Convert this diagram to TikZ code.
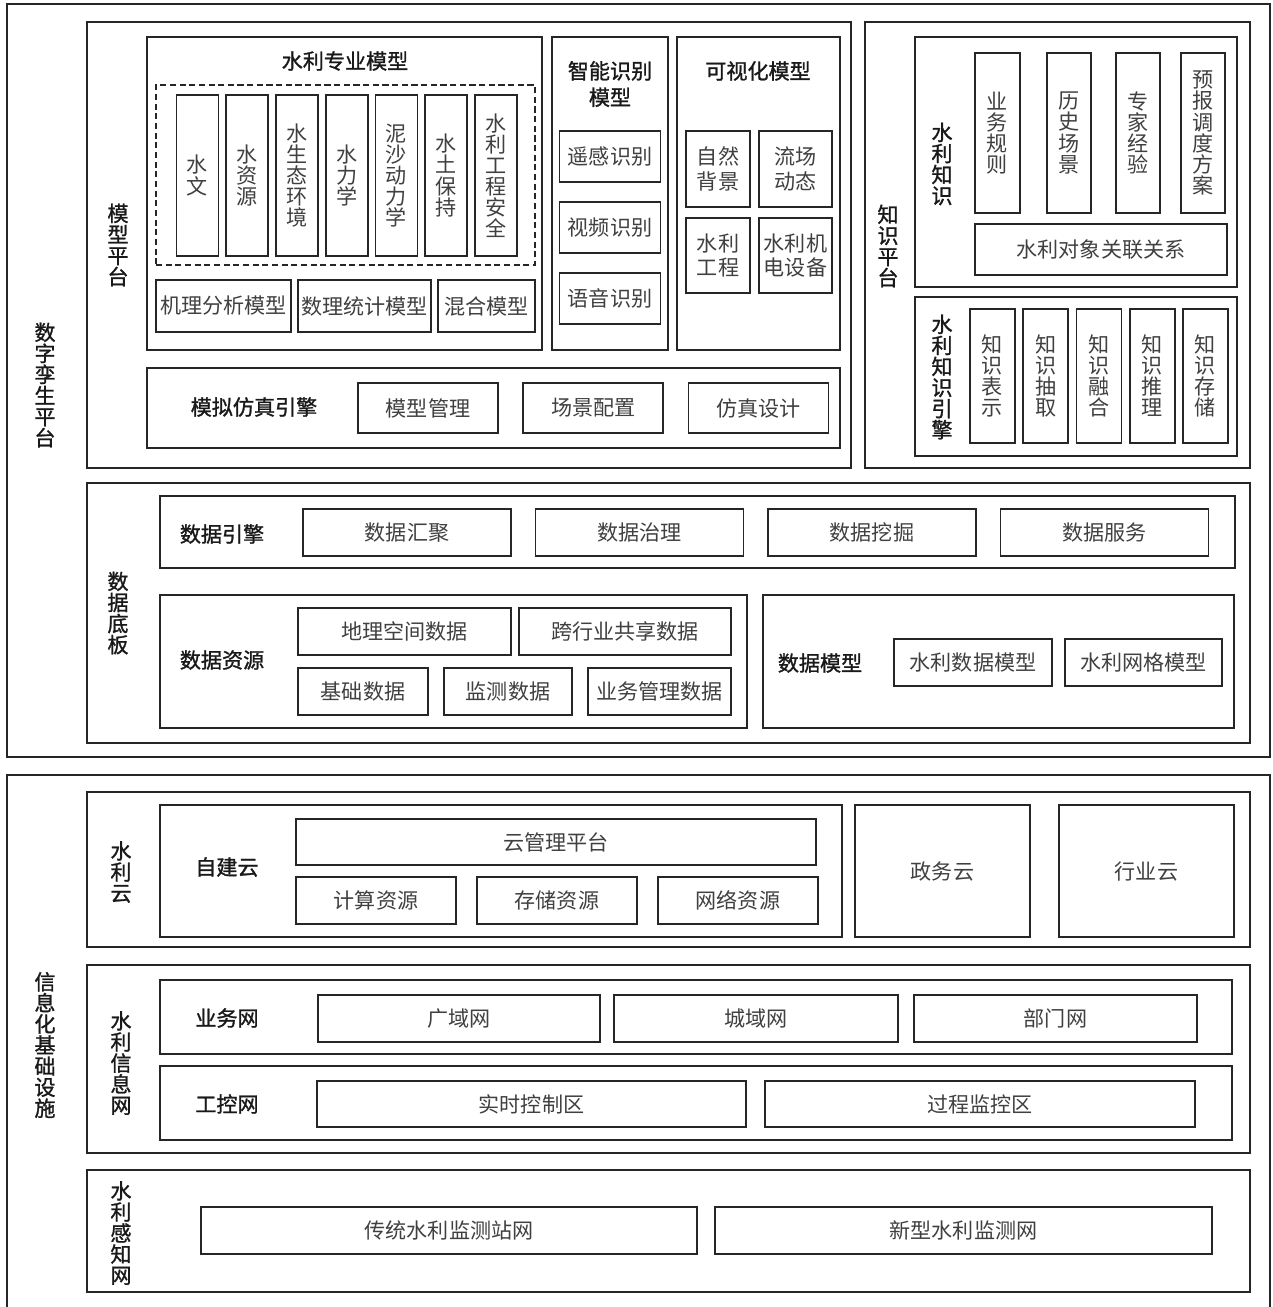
\documentclass[tikz,border=0pt]{standalone}
\usepackage{fontspec}
\setmainfont{Noto Sans CJK SC}
\newfontfamily\headfont[FakeBold=1.2]{Noto Sans CJK SC}
\usetikzlibrary{positioning}

\begin{document}
\begin{tikzpicture}[x=0.02cm, y=-0.02cm,
            box/.style={draw=black!85, line width=1pt, inner sep=0pt, align=center, text=black!75, font=\fontsize{12}{12}\selectfont},
            rect/.style args={#1/#2/#3/#4}{box, at={({(#1+#3)/2},{(#2+#4)/2})}, minimum width={(#3-#1)*0.02cm}, minimum height={(#4-#2)*0.02cm}},
            dashbox/.style={dash pattern=on 3.5pt off 2pt},
            head/.style={inner sep=0pt, align=center, text=black!90, font=\headfont\fontsize{12}{12}\selectfont},
            vbox/.style={box, minimum width=0.84cm, minimum height=3.22cm},
            sbox/.style={box, minimum width=2.02cm, minimum height=1.02cm},
            mbox/.style={box, minimum width=2.8cm, minimum height=1cm},
            kbox/.style={box, minimum width=0.9cm, minimum height=2.68cm},
            ebox/.style={box, minimum width=4.16cm, minimum height=0.94cm},
            rbox/.style={box, minimum width=3.2cm, minimum height=0.94cm}]
            \useasboundingbox[fill=white] (0,0) rectangle (1272,1307);

            \node (dt) [rect=7/4/1270/757] {};
            \node (dtl) [head] at (45,385) {数\\字\\孪\\生\\平\\台};

            \node (mp) [rect=87/22/851/468] {};
            \node (mpl) [head] at (118,245) {模\\型\\平\\台};

            \node (sl) [rect=147/37/542/350] {};
            \node (slt) [head] at (345,61) {水利专业模型};
            \node (sld) [rect=156/85/535/265, dashbox] {};
            \node (sl1) [vbox] at (197.5,175.5) {水\\文};
            \node (sl2) [vbox, right=0.12cm of sl1] {水\\资\\源};
            \node (sl3) [vbox, right=0.12cm of sl2] {水\\生\\态\\环\\境};
            \node (sl4) [vbox, right=0.12cm of sl3] {水\\力\\学};
            \node (sl5) [vbox, right=0.12cm of sl4] {泥\\沙\\动\\力\\学};
            \node (sl6) [vbox, right=0.12cm of sl5] {水\\土\\保\\持};
            \node (sl7) [vbox, right=0.12cm of sl6] {水\\利\\工\\程\\安\\全};
            \node (sl8) [rect=156/280/291/332] {机理分析模型};
            \node (sl9) [rect=298/280/431/332] {数理统计模型};
            \node (sl10) [rect=438/280/535/332] {混合模型};

            \node (zn) [rect=552/37/668/350] {};
            \node (znt) [head] at (610,84) {智能识别\\[3pt]模型};
            \node (zn1) [sbox] at (610,156.5) {遥感识别};
            \node (zn2) [sbox, below=0.365cm of zn1] {视频识别};
            \node (zn3) [sbox, below=0.365cm of zn2] {语音识别};

            \node (ks) [rect=677/37/840/350] {};
            \node (kst) [head] at (758,71) {可视化模型};
            \node (ks1) [rect=686/131/750/207] {自然\\[2pt]背景};
            \node (ks2) [rect=759/131/832/207] {流场\\[2pt]动态};
            \node (ks3) [rect=686/218/750/293] {水利\\[2pt]工程};
            \node (ks4) [rect=759/218/832/293] {水利机\\[2pt]电设备};

            \node (fz) [rect=147/368/840/448] {};
            \node (fzl) [head] at (254,407) {模拟仿真引擎};
            \node (fz1) [mbox] at (428,408) {模型管理};
            \node (fz2) [mbox, right=0.47cm of fz1] {场景配置};
            \node (fz3) [mbox, right=0.47cm of fz2] {仿真设计};

            \node (zs) [rect=865/22/1250/468] {};
            \node (zsl) [head] at (888,246) {知\\识\\平\\台};

            \node (sk) [rect=915/37/1237/287] {};
            \node (skl) [head] at (942,164) {水\\利\\知\\识};
            \node (sk1) [rect=975/53/1020/213] {业\\务\\规\\则};
            \node (sk2) [rect=1047/53/1091/213] {历\\史\\场\\景};
            \node (sk3) [rect=1116/53/1160/213] {专\\家\\经\\验};
            \node (sk4) [rect=1181/53/1225/213] {预\\报\\调\\度\\方\\案};
            \node (sk5) [rect=975/224/1227/275] {水利对象关联关系};

            \node (ke) [rect=915/297/1237/456] {};
            \node (kel) [head] at (942,377) {水\\利\\知\\识\\引\\擎};
            \node (ke1) [kbox] at (992.5,376) {知\\识\\表\\示};
            \node (ke2) [kbox, right=0.13cm of ke1] {知\\识\\抽\\取};
            \node (ke3) [kbox, right=0.13cm of ke2] {知\\识\\融\\合};
            \node (ke4) [kbox, right=0.13cm of ke3] {知\\识\\推\\理};
            \node (ke5) [kbox, right=0.13cm of ke4] {知\\识\\存\\储};

            \node (db) [rect=87/483/1250/743] {};
            \node (dbl) [head] at (118,613) {数\\据\\底\\板};

            \node (de) [rect=160/496/1235/568] {};
            \node (del) [head] at (222,534) {数据引擎};
            \node (de1) [ebox] at (407,532.5) {数据汇聚};
            \node (de2) [ebox, right=0.455cm of de1] {数据治理};
            \node (de3) [ebox, right=0.455cm of de2] {数据挖掘};
            \node (de4) [ebox, right=0.455cm of de3] {数据服务};

            \node (dr) [rect=160/595/747/728] {};
            \node (drl) [head] at (222,660) {数据资源};
            \node (dr1) [rect=298/608/511/655] {地理空间数据};
            \node (dr2) [rect=519/608/731/655] {跨行业共享数据};
            \node (dr3) [rect=298/668/428/715] {基础数据};
            \node (dr4) [rect=444/668/572/715] {监测数据};
            \node (dr5) [rect=588/668/731/715] {业务管理数据};

            \node (dm) [rect=763/595/1234/728] {};
            \node (dml) [head] at (820,663) {数据模型};
            \node (dm1) [rect=894/639/1052/686] {水利数据模型};
            \node (dm2) [rect=1065/639/1222/686] {水利网格模型};

            \node (jc) [rect=7/775/1270/1310] {};
            \node (jcl) [head] at (45,1045) {信\\息\\化\\基\\础\\设\\施};

            \node (sy) [rect=87/792/1250/947] {};
            \node (syl) [head] at (121,872) {水\\利\\云};
            \node (zj) [rect=160/805/842/937] {};
            \node (zjl) [head] at (227,867) {自建云};
            \node (zj1) [rect=296/819/816/865] {云管理平台};
            \node (zj2) [rbox] at (376,900.5) {计算资源};
            \node (zj3) [rbox, right=0.385cm of zj2] {存储资源};
            \node (zj4) [rbox, right=0.385cm of zj3] {网络资源};
            \node (zw) [rect=855/805/1030/937] {政务云};
            \node (hy) [rect=1059/805/1234/937] {行业云};

            \node (xx) [rect=87/965/1250/1153] {};
            \node (xxl) [head] at (121,1063) {水\\利\\信\\息\\网};
            \node (yw) [rect=160/980/1232/1054] {};
            \node (ywl) [head] at (227,1018) {业务网};
            \node (yw1) [rect=318/995/600/1042] {广域网};
            \node (yw2) [rect=614/995/898/1042] {城域网};
            \node (yw3) [rect=914/995/1197/1042] {部门网};
            \node (gk) [rect=160/1066/1232/1140] {};
            \node (gkl) [head] at (227,1104) {工控网};
            \node (gk1) [rect=317/1081/746/1127] {实时控制区};
            \node (gk2) [rect=765/1081/1195/1127] {过程监控区};

            \node (gz) [rect=87/1170/1250/1292] {};
            \node (gzl) [head] at (121,1233) {水\\利\\感\\知\\网};
            \node (gz1) [rect=201/1207/697/1254] {传统水利监测站网};
            \node (gz2) [rect=715/1207/1212/1254] {新型水利监测网};
        \end{tikzpicture}
\end{document}
